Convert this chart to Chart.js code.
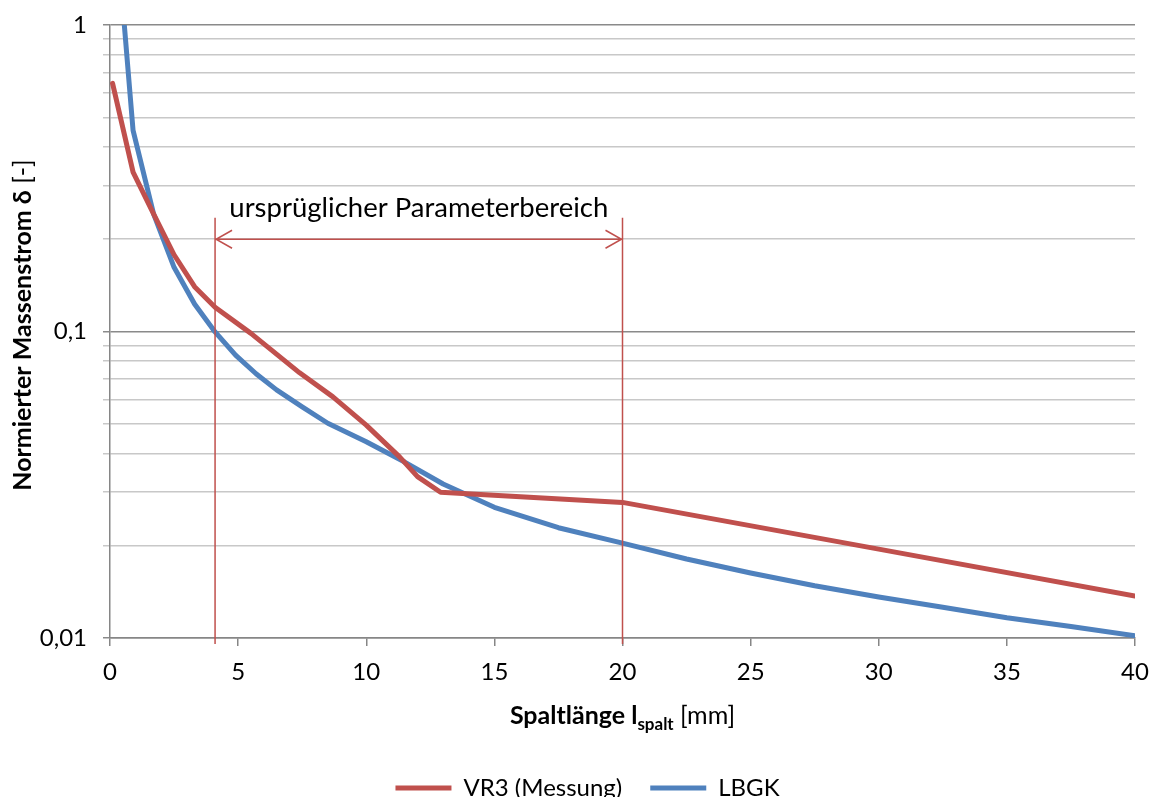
<!DOCTYPE html>
<html>
<head>
<meta charset="utf-8">
<script src="https://cdn.jsdelivr.net/npm/chart.js@4.4.1/dist/chart.umd.min.js"></script>
<style>
  html, body { margin: 0; padding: 0; background: #fff; overflow: hidden; }
  #wrap { width: 1156px; height: 810px; position: relative; }
</style>
</head>
<body>
<div id="wrap"><canvas id="massChart"></canvas></div>
<script>
// Spaltlänge in mm / normierter Massenstrom
const vr3Length = [0.1, 0.9, 1.7, 2.5, 3.3, 4.1, 5.5, 7.4, 8.7, 10, 11.3, 12, 12.9, 20, 30, 40];
const vr3Delta  = [0.645, 0.331, 0.242, 0.178, 0.140, 0.120, 0.0986, 0.0733, 0.0612, 0.0495, 0.039, 0.0336, 0.0299, 0.0277, 0.0195, 0.0137];

const lbgkLength = [0.1, 0.9, 1.7, 2.5, 3.3, 4.1, 4.9, 5.7, 6.5, 7.5, 8.5, 10, 11.5, 13, 15, 17.5, 20, 22.5, 25, 27.5, 30, 32.5, 35, 37.5, 40];
const lbgkDelta  = [2.9, 0.453, 0.242, 0.162, 0.123, 0.0997, 0.0837, 0.0728, 0.0645, 0.0568, 0.0502, 0.0437, 0.0375, 0.0318, 0.0267, 0.0229, 0.0204, 0.0181, 0.0163, 0.0148, 0.0136, 0.0126, 0.01165, 0.0109, 0.01017];

const seriesNames = ['VR3 (Messung)', 'LBGK'];
const seriesColors = ['#C0504D', '#4F81BD'];

const xTicks = [0, 5, 10, 15, 20, 25, 30, 35, 40];
const yGrid = [0.01, 0.02, 0.03, 0.04, 0.05, 0.06, 0.07, 0.08, 0.09,
               0.1, 0.2, 0.3, 0.4, 0.5, 0.6, 0.7, 0.8, 0.9, 1];
const yMajor = [0.01, 0.1, 1];
const yMajorLabels = ['0,01', '0,1', '1'];

// ursprünglicher Parameterbereich
const rangeBounds = [4.1, 20];
const rangeTop = 0.235;
const arrowLevel = 0.2;
const rangeLabel = 'ursprüglicher Parameterbereich';

const FONT = 'Lato, "Liberation Sans", sans-serif';

function toPoints(xs, ys) {
  return xs.map((x, i) => ({ x: x, y: ys[i] }));
}

const overlay = {
  id: 'overlay',
  afterLayout(chart) {
    // legende etwas nach rechts wie im original
    chart.legend.left += 20;
    chart.legend.right += 20;
  },
  afterDatasetsDraw(chart) {
    const ctx = chart.ctx;
    const xs = chart.scales.x, ys = chart.scales.y;
    const area = chart.chartArea;
    const red = seriesColors[0];
    const x1 = xs.getPixelForValue(rangeBounds[0]);
    const x2 = xs.getPixelForValue(rangeBounds[1]);
    const yTop = ys.getPixelForValue(rangeTop);
    const yArr = ys.getPixelForValue(arrowLevel);

    ctx.save();
    ctx.strokeStyle = red;
    ctx.lineWidth = 1.5;
    ctx.beginPath();
    [x1, x2].forEach(px => {
      ctx.moveTo(px, yTop);
      ctx.lineTo(px, area.bottom + 6);
    });
    ctx.moveTo(x1, yArr); ctx.lineTo(x2, yArr);
    // pfeilspitzen
    ctx.moveTo(x1 + 17, yArr - 9); ctx.lineTo(x1 + 1, yArr); ctx.lineTo(x1 + 17, yArr + 9);
    ctx.moveTo(x2 - 17, yArr - 9); ctx.lineTo(x2 - 1, yArr); ctx.lineTo(x2 - 17, yArr + 9);
    ctx.stroke();

    ctx.fillStyle = '#000';
    ctx.font = '27.5px ' + FONT;
    ctx.textAlign = 'center';
    ctx.textBaseline = 'alphabetic';
    ctx.fillText(rangeLabel, (x1 + x2) / 2, yTop - 1);
    ctx.restore();
  },
  afterDraw(chart) {
    const ctx = chart.ctx;
    const area = chart.chartArea;
    ctx.save();
    ctx.fillStyle = '#000';
    ctx.textBaseline = 'alphabetic';

    // x-Achsentitel
    const boldX = 'bold 25px ' + FONT;
    const subF = 'bold 17px ' + FONT;
    const normX = '25px ' + FONT;
    const p1 = 'Spaltlänge l', p2 = 'spalt', p3 = ' [mm]';
    ctx.font = boldX; const w1 = ctx.measureText(p1).width;
    ctx.font = subF; const w2 = ctx.measureText(p2).width;
    ctx.font = normX; const w3 = ctx.measureText(p3).width;
    let tx = (area.left + area.right) / 2 - (w1 + w2 + w3) / 2;
    const ty = 724;
    ctx.textAlign = 'left';
    ctx.font = boldX; ctx.fillText(p1, tx, ty); tx += w1;
    ctx.font = subF; ctx.fillText(p2, tx, ty + 6); tx += w2;
    ctx.font = normX; ctx.fillText(p3, tx, ty);

    // y-Achsentitel
    const q1 = 'Normierter Massenstrom δ', q2 = ' [-]';
    ctx.font = boldX; const v1 = ctx.measureText(q1).width;
    ctx.font = normX; const v2 = ctx.measureText(q2).width;
    ctx.translate(31, 325);
    ctx.rotate(-Math.PI / 2);
    let ry = -(v1 + v2) / 2;
    ctx.font = boldX; ctx.fillText(q1, ry, 0); ry += v1;
    ctx.font = normX; ctx.fillText(q2, ry, 0);
    ctx.restore();
  }
};

new Chart(document.getElementById('massChart'), {
  type: 'line',
  data: {
    datasets: [
      {
        label: seriesNames[0],
        data: toPoints(vr3Length, vr3Delta),
        borderColor: seriesColors[0],
        backgroundColor: seriesColors[0],
        borderWidth: 5,
        borderCapStyle: 'round',
        borderJoinStyle: 'round',
        pointRadius: 0,
        tension: 0
      },
      {
        label: seriesNames[1],
        data: toPoints(lbgkLength, lbgkDelta),
        borderColor: seriesColors[1],
        backgroundColor: seriesColors[1],
        borderWidth: 5,
        borderCapStyle: 'round',
        borderJoinStyle: 'round',
        pointRadius: 0,
        tension: 0
      }
    ]
  },
  options: {
    responsive: true,
    maintainAspectRatio: false,
    animation: false,
    events: [],
    layout: { padding: { top: 25, right: 21, left: 0, bottom: 0 } },
    plugins: {
      tooltip: { enabled: false },
      legend: {
        position: 'bottom',
        labels: {
          usePointStyle: true,
          pointStyle: 'line',
          pointStyleWidth: 56,
          boxHeight: 24,
          padding: 28,
          color: '#000',
          font: { family: FONT, size: 24 }
        }
      }
    },
    scales: {
      x: {
        type: 'linear',
        min: 0,
        max: 40,
        afterBuildTicks: s => { s.ticks = xTicks.map(v => ({ value: v })); },
        afterFit: s => { s.height = 110; },
        border: { color: '#868686', width: 1.5 },
        grid: { drawOnChartArea: false, drawTicks: true, tickLength: 8, color: '#868686', lineWidth: 1.5 },
        ticks: { color: '#000', padding: 3, font: { family: FONT, size: 24, lineHeight: 1.9 } }
      },
      y: {
        type: 'logarithmic',
        min: 0.01,
        max: 1,
        afterBuildTicks: s => { s.ticks = yGrid.map(v => ({ value: v })); },
        afterFit: s => { s.width = 110; },
        border: { color: '#868686', width: 1.5 },
        grid: {
          color: ctx => yMajor.includes(ctx.tick && ctx.tick.value) ? '#8a8a8a' : '#c8c8c8',
          lineWidth: 1.5,
          tickLength: 7
        },
        ticks: {
          autoSkip: false,
          color: '#000',
          padding: 16,
          font: { family: FONT, size: 24, lineHeight: 0.6 },
          callback: v => {
            const i = yMajor.indexOf(v);
            return i >= 0 ? yMajorLabels[i] : '';
          }
        }
      }
    }
  },
  plugins: [overlay]
});
</script>
</body>
</html>
